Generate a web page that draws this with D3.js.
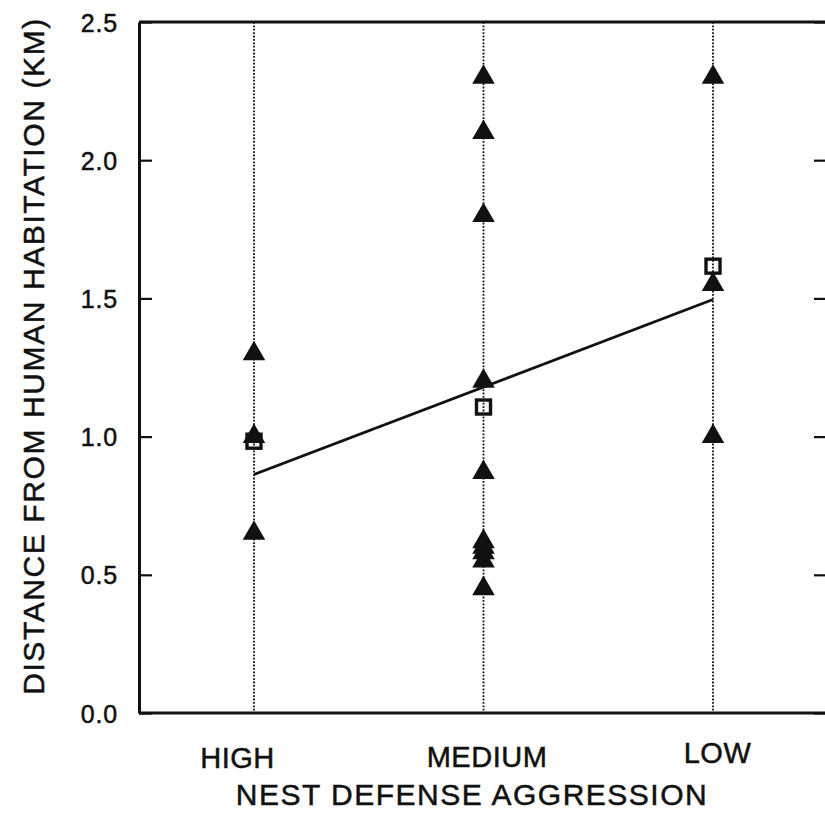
<!DOCTYPE html>
<html>
<head>
<meta charset="utf-8">
<script src="https://cdn.jsdelivr.net/npm/d3@7"></script>
<style>
  html, body { margin: 0; padding: 0; background: #fff; }
  svg { display: block; }
  text { font-family: "Liberation Sans", Arial, Helvetica, sans-serif; fill: #111; stroke: #111; stroke-width: 0.5px; }
</style>
</head>
<body>
<svg id="chart" width="825" height="825"></svg>
<script>
// ---- data ----
const categories = ["HIGH", "MEDIUM", "LOW"];
const highValues = [1.3, 1.0, 0.65];
const mediumValues = [2.3, 2.1, 1.8, 1.2, 0.87, 0.62, 0.60, 0.58, 0.55, 0.45];
const lowValues = [2.3, 1.55, 1.0];
const yTickValues = [0, 0.5, 1.0, 1.5, 2.0, 2.5];
const xTitle = "NEST DEFENSE AGGRESSION";
const yTitle = "DISTANCE FROM HUMAN HABITATION (KM)";

// ---- layout ----
const plotLeft = 139, plotTop = 22, plotBottom = 713, rightAxis = 827;
const labelNudge = [-17, 3, 4];     // x shift of category labels
const labelBase = [768, 767, 763];  // baseline of category labels

const svg = d3.select("#chart");
const groups = [highValues, mediumValues, lowValues];

const x = d3.scalePoint().domain(categories).range([254, 713]);
const y = d3.scaleLinear().domain([0, 2.5]).range([plotBottom, plotTop]);

// vertical dotted lines
svg.append("g").selectAll("line").data(categories).join("line")
  .attr("x1", d => x(d)).attr("x2", d => x(d))
  .attr("y1", y(2.5)).attr("y2", y(0))
  .attr("stroke", "#111").attr("stroke-width", 1.8)
  .attr("stroke-dasharray", "1.8,1.6");

// top frame line
svg.append("line")
  .attr("x1", plotLeft).attr("x2", rightAxis).attr("y1", y(2.5)).attr("y2", y(2.5))
  .attr("stroke", "#111").attr("stroke-width", 3);

// left axis
const yAxis = svg.append("g").attr("transform", `translate(${plotLeft},0)`)
  .call(d3.axisLeft(y).tickValues(yTickValues).tickFormat(d3.format(".1f"))
        .tickSize(-13).tickSizeOuter(0).tickPadding(21));
yAxis.select(".domain").attr("stroke", "#111").attr("stroke-width", 3);
yAxis.selectAll(".tick line").attr("stroke", "#111").attr("stroke-width", 2.2);
yAxis.selectAll(".tick text").attr("font-size", 25).attr("letter-spacing", 0.8)
  .attr("dy", "0.36em").style("font-family", "'Liberation Sans', Arial, sans-serif");

// right axis
const yAxisR = svg.append("g").attr("transform", `translate(${rightAxis},0)`)
  .call(d3.axisRight(y).tickValues(yTickValues).tickFormat("")
        .tickSize(-13).tickSizeOuter(0));
yAxisR.select(".domain").attr("stroke", "#111").attr("stroke-width", 3);
yAxisR.selectAll(".tick line").attr("stroke", "#111").attr("stroke-width", 2.2);

// bottom axis
const xAxis = svg.append("g").attr("transform", `translate(0,${plotBottom})`)
  .call(d3.axisBottom(x).tickSize(0).tickSizeOuter(0));
xAxis.select(".domain").attr("d", `M${plotLeft},0H${rightAxis}`)
  .attr("stroke", "#111").attr("stroke-width", 3);
xAxis.selectAll(".tick text")
  .attr("font-size", 29).attr("letter-spacing", 0.5)
  .style("font-family", "'Liberation Sans', Arial, sans-serif")
  .attr("dy", 0)
  .attr("x", (d, i) => labelNudge[i])
  .attr("y", (d, i) => labelBase[i] - plotBottom);

// regression line (least squares on all points, category index as x)
const pts = [];
groups.forEach((vals, i) => vals.forEach(v => pts.push([i, v])));
const mx = d3.mean(pts, p => p[0]), my = d3.mean(pts, p => p[1]);
const slope = d3.sum(pts, p => (p[0] - mx) * (p[1] - my)) / d3.sum(pts, p => (p[0] - mx) ** 2);
const fit = i => my + slope * (i - mx);
svg.append("line")
  .attr("x1", x(categories[0])).attr("y1", y(fit(0)))
  .attr("x2", x(categories[2])).attr("y2", y(fit(2)))
  .attr("stroke", "#111").attr("stroke-width", 2.8);

// triangles
const tri = d3.symbol().type(d3.symbolTriangle).size(220);
const triData = [];
groups.forEach((vals, i) => vals.forEach(v => triData.push({c: categories[i], v})));
svg.append("g").selectAll("path").data(triData).join("path")
  .attr("d", tri)
  .attr("transform", d => `translate(${x(d.c)},${y(d.v)})`)
  .attr("fill", "#111");

// mean squares
const means = groups.map((vals, i) => ({c: categories[i], v: d3.mean(vals)}));
svg.append("g").selectAll("rect").data(means).join("rect")
  .attr("x", d => x(d.c) - 7).attr("y", d => y(d.v) - 7)
  .attr("width", 14).attr("height", 14)
  .attr("fill", "none").attr("stroke", "#111").attr("stroke-width", 3.4);

// axis titles
svg.append("text")
  .attr("x", 472).attr("y", 805).attr("text-anchor", "middle")
  .attr("font-size", 30).attr("letter-spacing", 1.5)
  .text(xTitle);
svg.append("text")
  .attr("transform", "translate(44,356) rotate(-90)")
  .attr("text-anchor", "middle")
  .attr("font-size", 30).attr("letter-spacing", 1.6)
  .text(yTitle);
</script>
</body>
</html>
